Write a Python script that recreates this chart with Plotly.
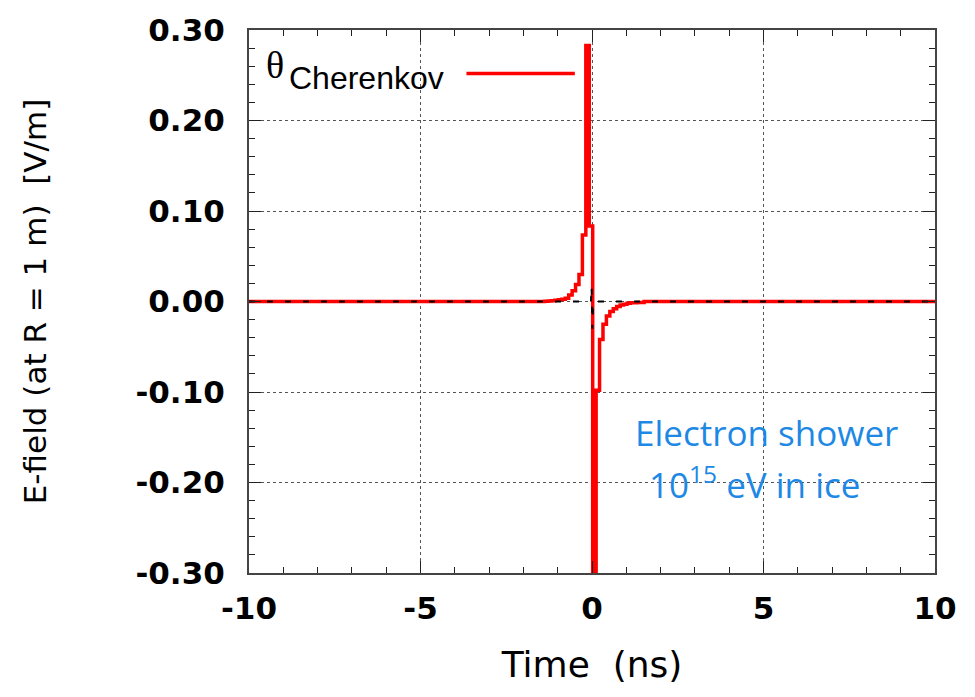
import plotly.graph_objects as go

# Radio pulse from a 1 PeV electron shower in ice, observed at the Cherenkov angle.
# Step-binned field values: each value holds from its bin start time to the next one.
bin_start_ns = [-10.0, -1.38, -1.28, -1.18, -1.08, -0.98, -0.88, -0.78, -0.68, -0.58,
                -0.48, -0.38, -0.28, -0.18, -0.08, 0.02, 0.12, 0.22, 0.32, 0.42,
                0.52, 0.62, 0.72, 0.82, 0.92, 1.02, 1.12, 1.32, 1.52, 10.0]
efield_cherenkov = [0.0, 0.0003, 0.0005, 0.0009, 0.0013, 0.0018, 0.0025, 0.0037, 0.0073, 0.012,
                    0.0187, 0.0297, 0.0736, 0.283, 0.0835, -0.45, -0.098, -0.042, -0.025, -0.016,
                    -0.011, -0.008, -0.0055, -0.004, -0.003, -0.002, -0.0015, -0.001, 0.0, 0.0]

# Reference curve (dashed black), nearly flat with a tiny bipolar kick at t = 0
ref_time_ns = [-10.0, -0.03, -0.01, 0.01, 0.03, 10.0]
ref_efield = [0.0, 0.0, 0.017, -0.03, 0.0, 0.0]

x_ticks = [-10, -5, 0, 5, 10]
y_ticks = [-0.30, -0.20, -0.10, 0.00, 0.10, 0.20, 0.30]
y_tick_text = ["-0.30", "-0.20", "-0.10", "0.00", "0.10", "0.20", "0.30"]

fig = go.Figure()
fig.add_trace(go.Scatter(
    x=bin_start_ns, y=efield_cherenkov, mode="lines", line_shape="hv",
    line=dict(color="#ff0000", width=3.5), showlegend=False, cliponaxis=True))
fig.add_trace(go.Scatter(
    x=ref_time_ns, y=ref_efield, mode="lines",
    line=dict(color="black", width=2, dash="6px,12px"), showlegend=False))

sans = "Liberation Sans, Arial, sans-serif"
wide = "DejaVu Sans, sans-serif"
axis_common = dict(
    showline=True, linecolor="#444", linewidth=2, mirror="allticks",
    ticks="inside", ticklen=12, tickwidth=1.3, tickcolor="#222",
    showgrid=True, gridcolor="#555", gridwidth=1, griddash="dot",
    zeroline=False,
    tickfont=dict(family=wide, size=31, color="black", weight="bold"),
)

fig.update_xaxes(
    range=[-10, 10], tickvals=x_ticks, ticktext=[str(v) for v in x_ticks],
    ticklabelstandoff=7,
    minor=dict(dtick=1, ticks="inside", ticklen=6, tickcolor="#222", showgrid=False),
    title=dict(text="Time  (ns)", font=dict(family=wide, size=36, color="black"), standoff=27),
    **axis_common)
fig.update_yaxes(
    range=[-0.30, 0.30], tickvals=y_ticks, ticktext=y_tick_text,
    ticklabelstandoff=16,
    minor=dict(dtick=0.02, ticks="inside", ticklen=6, tickcolor="#222", showgrid=False),
    title=dict(text="E-field (at R = 1 m)  [V/m]", font=dict(family=wide, size=31, color="black"),
               standoff=80),
    **axis_common)

# Legend entry: symbol, subscript label, and red sample line
fig.add_annotation(xref="paper", yref="paper", x=0.022, y=0.935, xanchor="left", yanchor="middle",
                   text="θ", showarrow=False,
                   font=dict(family="Liberation Serif, Times New Roman, serif", size=38, color="black"))
fig.add_annotation(xref="paper", yref="paper", x=0.055, y=0.912, xanchor="left", yanchor="middle",
                   text="Cherenkov", showarrow=False,
                   font=dict(family=sans, size=32, color="black"))
fig.add_shape(type="line", xref="paper", yref="paper", x0=0.317, x1=0.475, y0=0.92, y1=0.92,
              line=dict(color="#ff0000", width=3.5))

fig.add_annotation(xref="paper", yref="paper", x=0.754, y=0.259, xanchor="center", yanchor="middle",
                   text="Electron shower", showarrow=False,
                   font=dict(family="Open Sans, sans-serif", size=35, color="#1e88e5"))
fig.add_annotation(xref="paper", yref="paper", x=0.737, y=0.166, xanchor="center", yanchor="middle",
                   text="10<sup>15</sup> eV in ice", showarrow=False,
                   font=dict(family="Open Sans, sans-serif", size=35, color="#1e88e5"))

fig.update_layout(
    width=975, height=697,
    margin=dict(l=249, r=40, t=27, b=124),
    paper_bgcolor="white", plot_bgcolor="white",
)

fig.write_html("out.html")
